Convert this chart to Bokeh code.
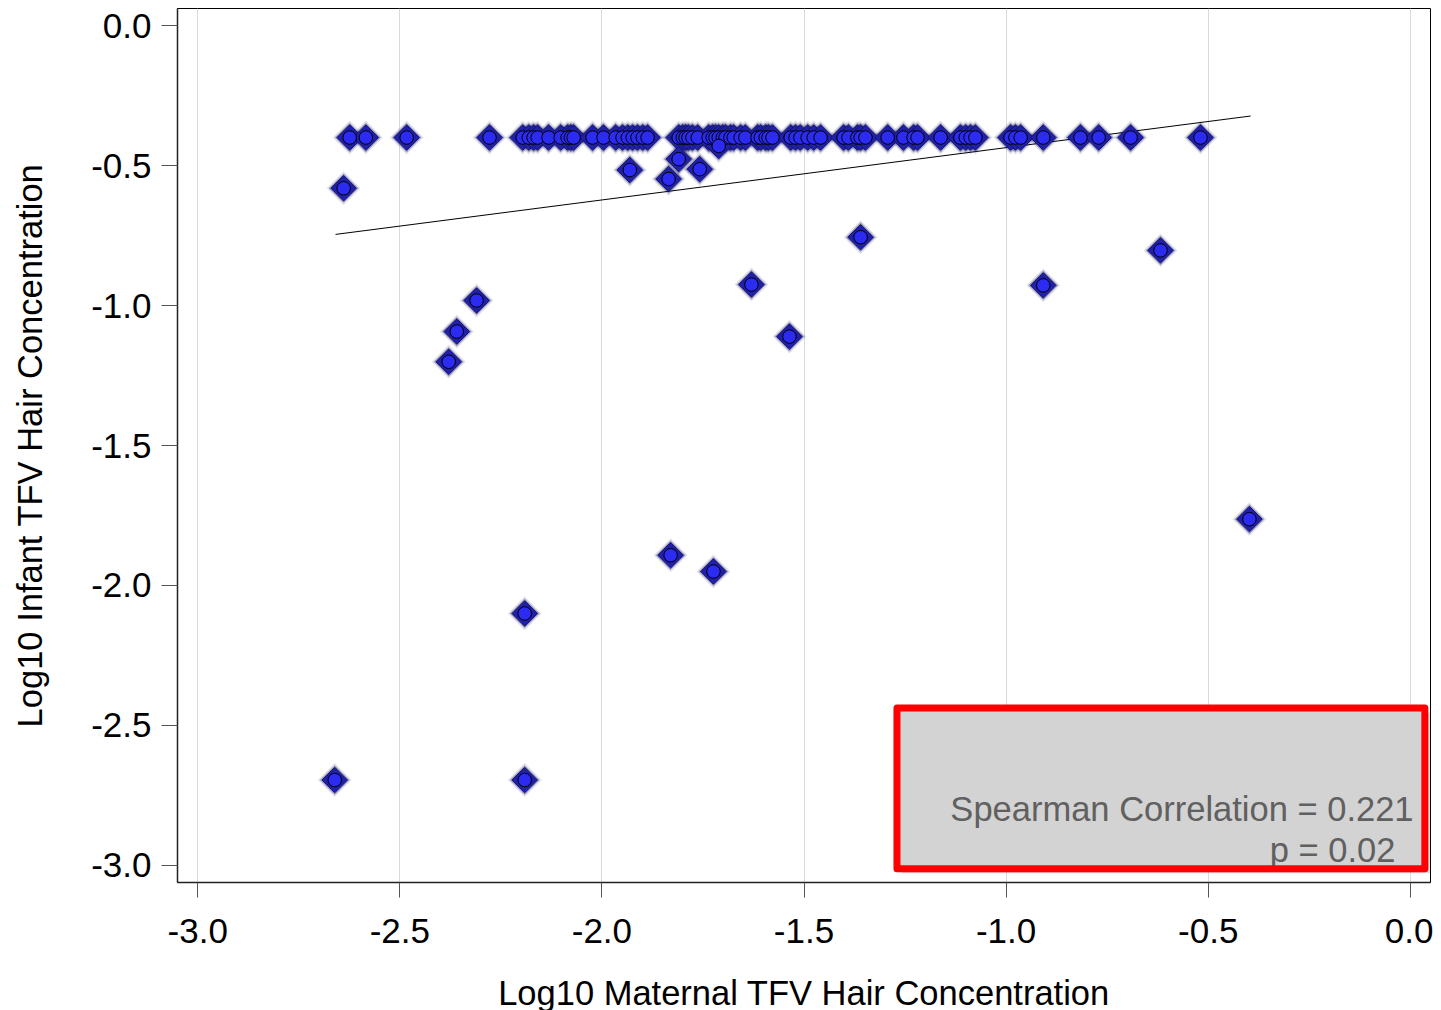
import numpy as np
from bokeh.plotting import figure
from bokeh.models import Range1d, FixedTicker, NumeralTickFormatter
from bokeh.core.properties import value
from bokeh.embed import file_html
from bokeh.resources import INLINE

# ---- data ----
top_x = [-2.624, -2.584, -2.483, -2.278, -2.196, -2.181, -2.169, -2.159, -2.132, -2.102,
         -2.085, -2.077, -2.070, -2.023, -1.996, -1.966, -1.949, -1.936, -1.924, -1.912,
         -1.899, -1.887, -1.810, -1.800, -1.793, -1.786, -1.776, -1.763, -1.736, -1.726,
         -1.719, -1.711, -1.701, -1.694, -1.682, -1.674, -1.657, -1.645, -1.615, -1.607,
         -1.595, -1.588, -1.578, -1.533, -1.521, -1.509, -1.491, -1.476, -1.459, -1.402,
         -1.390, -1.368, -1.360, -1.348, -1.293, -1.254, -1.229, -1.219, -1.162, -1.113,
         -1.100, -1.088, -1.076, -0.989, -0.977, -0.964, -0.908, -0.816, -0.771, -0.692,
         -0.519]
top_y = [-0.40] * len(top_x)

other_x = [-2.639, -1.931, -1.810, -1.835, -1.758, -1.711, -1.360, -0.618, -1.630, -0.908,
           -1.536, -2.310, -2.359, -2.379, -0.398, -1.830, -1.724, -2.191, -2.661, -2.191]
other_y = [-0.581, -0.516, -0.477, -0.548, -0.513, -0.430, -0.756, -0.803, -0.925, -0.928,
           -1.111, -0.982, -1.093, -1.201, -1.763, -1.892, -1.950, -2.100, -2.695, -2.695]

maternal = top_x + other_x
infant = top_y + other_y

fit_x = [-2.659, -0.395]
fit_y = [-0.746, -0.323]

ticks = [-3.0, -2.5, -2.0, -1.5, -1.0, -0.5, 0.0]
stat_lines = ["Spearman Correlation = 0.221", "p = 0.02"]

FONT = "Liberation Sans"

p = figure(frame_width=1253, frame_height=874,
           min_border_left=177, min_border_right=3, min_border_top=8, min_border_bottom=122,
           x_range=Range1d(-3.05, 0.05), y_range=Range1d(-3.061, 0.061),
           output_backend="svg", toolbar_location=None, background_fill_color="white")

p.outline_line_color = "black"
p.outline_line_width = 1

for ax in (p.xaxis[0], p.yaxis[0]):
    ax.ticker = FixedTicker(ticks=ticks)
    ax.formatter = NumeralTickFormatter(format="0.0")
    ax.major_label_text_font = FONT
    ax.major_label_text_font_size = "35px"
    ax.major_label_text_color = "black"
    ax.axis_label_text_font = FONT
    ax.axis_label_text_font_size = "34.5px"
    ax.axis_label_text_font_style = "normal"
    ax.axis_label_text_color = "black"
    ax.axis_line_color = "#222222"
    ax.axis_line_width = 1.5
    ax.major_tick_line_color = "#555555"
    ax.major_tick_in = 0
    ax.minor_tick_line_color = None

p.xaxis.axis_label = "Log10 Maternal TFV Hair Concentration"
p.yaxis.axis_label = "Log10 Infant TFV Hair Concentration"
p.xaxis.major_tick_out = 15
p.yaxis.major_tick_out = 16
p.xaxis.major_label_standoff = 21
p.yaxis.major_label_standoff = 10
p.xaxis.axis_label_standoff = 28
p.yaxis.axis_label_standoff = 39

p.xgrid.grid_line_color = "#dadada"
p.ygrid.grid_line_color = None

# regression line
p.line(fit_x, fit_y, line_color="black", line_width=1)

# markers: blurred diamond + circle
p.scatter(maternal, infant, marker="square", angle=np.pi / 4, size=24,
          fill_color="#101050", fill_alpha=0.12, line_color=None)
p.scatter(maternal, infant, marker="square", angle=np.pi / 4, size=21,
          fill_color="#121270", fill_alpha=0.35, line_color=None)
p.scatter(maternal, infant, marker="square", angle=np.pi / 4, size=18,
          fill_color="#2020a8", line_color="#14146e", line_width=1)
p.scatter(maternal, infant, marker="circle", size=13.5,
          fill_color="#2b2bf2", line_color="black", line_width=1)

# statistics box
bx0, bx1, by0, by1 = -1.270, 0.036, -3.012, -2.438
p.quad(left=[bx0 + 0.012], right=[bx1 + 0.012], bottom=[by0 - 0.016], top=[by1 - 0.016],
       fill_color="#888888", fill_alpha=0.35, line_color=None)
p.quad(left=[bx0], right=[bx1], bottom=[by0], top=[by1],
       fill_color="#d3d3d3", line_color=None)
p.text(x=[0.008], y=[-2.797], text=[stat_lines[0]], text_align="right",
       text_baseline="alphabetic", text_font=value(FONT), text_font_size="34.5px",
       text_color="#606060")
p.text(x=[-0.037], y=[-2.945], text=[stat_lines[1]], text_align="right",
       text_baseline="alphabetic", text_font=value(FONT), text_font_size="34.5px",
       text_color="#606060")
p.quad(left=[bx0], right=[bx1], bottom=[by0], top=[by1],
       fill_color=None, line_color="#ff0000", line_width=7, line_join="round")

open("out.html", "w").write(file_html(p, INLINE))
